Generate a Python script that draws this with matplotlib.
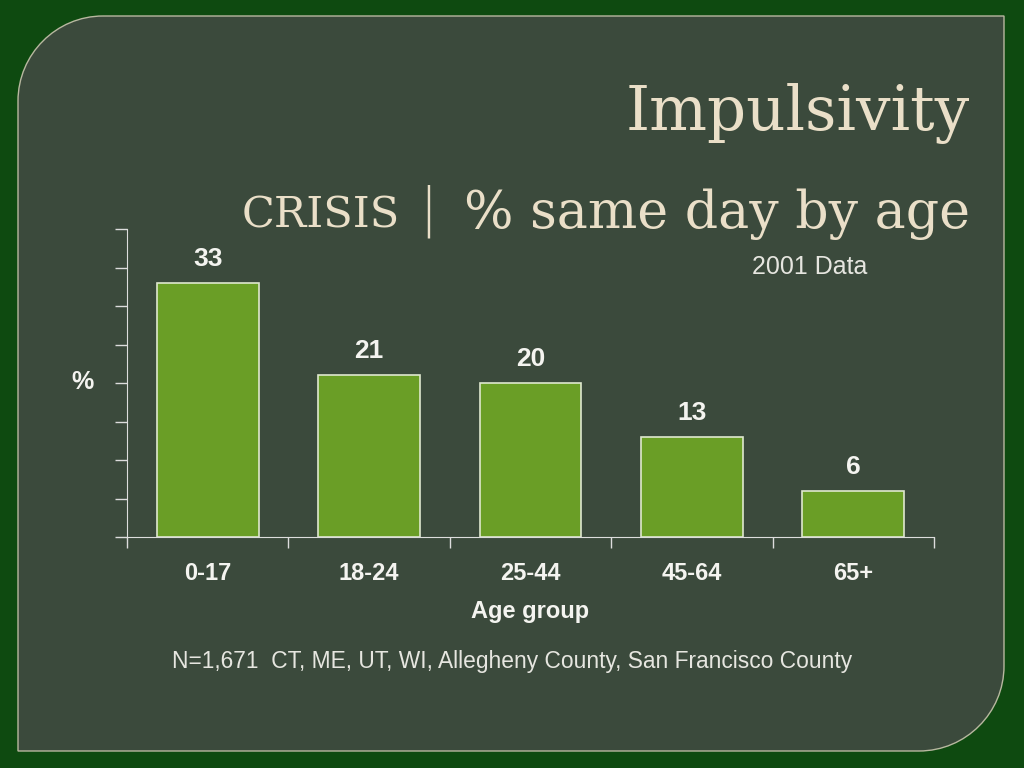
import matplotlib
matplotlib.use('Agg')
import matplotlib.pyplot as plt
from matplotlib.path import Path
from matplotlib.patches import PathPatch

# --- data ---
groups = ['0-17', '18-24', '25-44', '45-64', '65+']
pct_same_day = [33, 21, 20, 13, 6]
title = 'Impulsivity'
sub_left, sub_right = 'CRISIS', '% same day by age'
note = 'N=1,671  CT, ME, UT, WI, Allegheny County, San Francisco County'

BG = '#0e4a10'
PANEL = '#3b4a3c'
BAR = '#6a9e26'
CREAM = '#eadfc8'
WHITE = '#f4f4f0'
SANS = 'Liberation Sans'

fig = plt.figure(figsize=(10.24, 7.68), dpi=100, facecolor=BG)

# background panel, rounded top-left and bottom-right (pixel coords)
bg = fig.add_axes([0, 0, 1, 1])
bg.set_xlim(0, 1024); bg.set_ylim(768, 0); bg.axis('off')
x0, y0, x1, y1, r = 18, 16, 1004, 751, 85
verts = [(x0 + r, y0), (x1, y0), (x1, y1 - r), (x1, y1 - r * 0.45), (x1 - r * 0.45, y1), (x1 - r, y1),
         (x0, y1), (x0, y0 + r), (x0, y0 + r * 0.45), (x0 + r * 0.45, y0), (x0 + r, y0)]
codes = [Path.MOVETO, Path.LINETO, Path.LINETO, Path.CURVE4, Path.CURVE4, Path.CURVE4,
         Path.LINETO, Path.LINETO, Path.CURVE4, Path.CURVE4, Path.CURVE4]
bg.add_patch(PathPatch(Path(verts, codes), facecolor=PANEL, edgecolor='#b8b8a0', lw=1))

bg.text(970, 130, title, fontsize=44, family='DejaVu Serif', color=CREAM, ha='right', va='baseline')
# subtitle in pieces so the wide slide font spacing is kept
bg.text(242, 228, sub_left, fontsize=31, family='DejaVu Serif', color=CREAM, ha='left', va='baseline')
bg.text(428, 226, '|', fontsize=38, family='DejaVu Sans', fontweight='light', color=CREAM, ha='center', va='baseline')
bg.text(970, 228, sub_right, fontsize=37.5, family='DejaVu Serif', color=CREAM, ha='right', va='baseline')
bg.text(752, 274, '2001 Data', fontsize=18, family=SANS, color='#e6e6e0', ha='left', va='baseline')
bg.text(172, 668, note, fontsize=16.4, family=SANS, color='#e6e6e0', ha='left', va='baseline')
bg.text(83, 382, '%', fontsize=18, family=SANS, fontweight='bold', color=WHITE, ha='center', va='center')

# chart
ax = fig.add_axes([127 / 1024, 1 - 537 / 768, (934 - 127) / 1024, (537 - 229) / 768])
ax.set_facecolor('none')
x = range(len(groups))
ax.bar(x, pct_same_day, width=0.63, color=BAR, edgecolor='#dfe8cf', linewidth=1.2)
for i, v in enumerate(pct_same_day):
    ax.text(i, v + 3.1, str(v), ha='center', va='center', fontsize=19, fontweight='bold',
            family=SANS, color=WHITE)
ax.set_ylim(0, 40)
ax.set_xlim(-0.5, len(groups) - 0.5)
ax.set_yticks(range(0, 41, 5))
ax.set_yticklabels([])
ax.set_xticks([i - 0.5 for i in range(len(groups) + 1)])
ax.set_xticklabels([])
ax.set_xticks(list(x), minor=True)
ax.set_xticklabels(groups, minor=True, fontsize=17, fontweight='bold', family=SANS, color=WHITE)
ax.tick_params(axis='x', which='minor', length=0, pad=18)
ax.tick_params(axis='x', which='major', length=8, color='#dddddd', width=1)
ax.tick_params(axis='y', length=9, color='#dddddd', width=1)
for s in ['top', 'right']:
    ax.spines[s].set_visible(False)
for s in ['left', 'bottom']:
    ax.spines[s].set_color('#dddddd')
ax.set_xlabel('Age group', fontsize=17, fontweight='bold', family=SANS, color=WHITE, labelpad=11)

fig.savefig('out.png', dpi=100, facecolor=BG)
